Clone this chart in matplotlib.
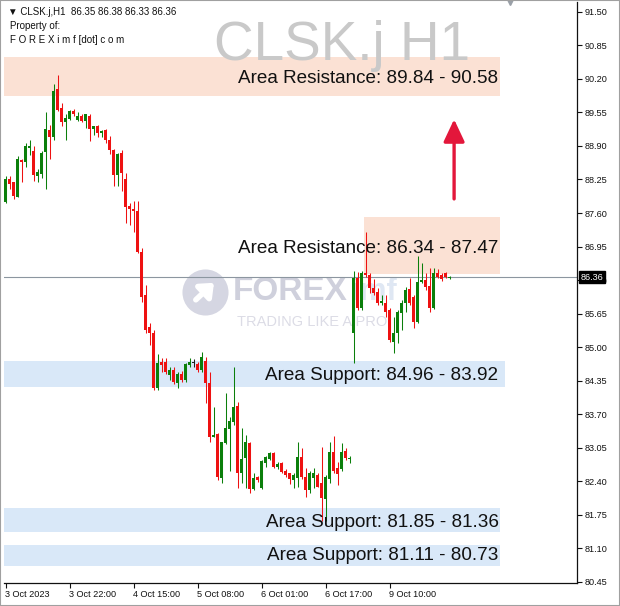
import matplotlib
matplotlib.use('Agg')
import matplotlib.pyplot as plt
import matplotlib.transforms as mtransforms
from matplotlib.patches import Rectangle

symbol = 'CLSK.j'
timeframe = 'H1'
last_ohlc = [86.35, 86.38, 86.33, 86.36]
last_price = 86.36

# H1 свічки
opens = [87.82, 88.26, 88.20, 87.92, 88.63, 88.59, 88.87, 88.81, 88.31, 88.36,
         88.78, 89.20, 89.07, 90.00, 89.64, 89.36, 89.43, 89.58, 89.41, 89.49,
         89.38, 89.49, 89.23, 89.29, 89.16, 89.21, 89.02, 88.83, 88.34, 88.77,
         88.26, 87.73, 87.68, 87.63, 86.85, 86.01, 85.39, 85.27, 84.21, 84.71,
         84.71, 84.46, 84.56, 84.30, 84.48, 84.36, 84.65, 84.69, 84.67, 84.56,
         84.74, 84.30, 83.26, 83.31, 82.46, 83.14, 83.41, 83.55, 83.86, 82.56,
         82.85, 83.14, 82.26, 82.48, 82.28, 82.75, 82.83, 82.94, 82.67, 82.75,
         82.61, 82.56, 82.42, 82.46, 82.87, 82.48, 82.24, 82.46, 82.52, 82.36,
         82.05, 82.44, 82.96, 82.65, 82.63, 82.99, 82.84, 85.27, 86.34, 85.76,
         86.44, 86.40, 86.15, 86.07, 85.86, 85.86, 85.72, 85.10, 85.27, 85.66,
         85.86, 86.13, 85.97, 85.49, 86.26, 86.30, 86.19, 85.76, 86.44, 86.40,
         86.44, 86.35]
highs = [88.32, 88.31, 88.21, 88.70, 88.65, 88.96, 89.02, 88.90, 88.46, 88.81,
         89.56, 89.31, 90.11, 90.28, 89.73, 89.51, 89.60, 89.62, 89.56, 89.51,
         89.52, 89.52, 89.29, 89.30, 89.21, 89.23, 89.09, 88.85, 88.77, 88.83,
         88.38, 87.80, 87.84, 87.84, 86.92, 86.21, 85.47, 85.33, 84.87, 84.79,
         84.79, 84.61, 84.61, 84.52, 84.54, 84.69, 84.79, 84.77, 84.71, 84.91,
         84.81, 84.52, 83.84, 83.33, 83.16, 84.11, 83.64, 84.61, 83.93, 83.43,
         83.29, 83.16, 82.56, 82.50, 82.81, 82.90, 82.96, 82.96, 82.77, 82.77,
         82.63, 82.57, 82.56, 83.16, 83.04, 82.65, 82.61, 82.65, 82.56, 83.06,
         82.52, 83.16, 83.27, 82.77, 83.14, 83.04, 82.90, 86.48, 86.46, 86.48,
         87.24, 86.44, 86.32, 86.15, 86.01, 86.01, 85.76, 85.58, 85.72, 85.91,
         86.17, 86.34, 86.01, 86.76, 86.63, 86.44, 86.54, 86.54, 86.52, 86.44,
         86.46, 86.38]
lows = [87.80, 88.07, 87.87, 87.91, 88.21, 88.50, 88.73, 88.22, 88.21, 88.28,
        88.06, 88.65, 89.02, 89.57, 89.29, 89.02, 89.41, 89.49, 89.39, 89.36,
        89.25, 89.00, 89.12, 89.07, 89.07, 88.96, 88.74, 88.13, 88.13, 88.02,
        87.41, 87.37, 87.24, 86.83, 85.88, 85.27, 85.04, 84.17, 84.17, 84.52,
        84.48, 84.36, 84.28, 84.21, 84.32, 84.32, 84.61, 84.61, 84.52, 84.52,
        83.91, 83.16, 83.25, 82.42, 82.36, 83.12, 82.61, 83.50, 82.28, 82.36,
        82.28, 82.17, 82.23, 82.38, 82.26, 82.67, 82.81, 82.65, 82.63, 82.56,
        82.48, 82.34, 82.28, 82.29, 82.44, 82.09, 82.17, 82.28, 82.30, 81.64,
        81.64, 82.36, 82.56, 82.32, 82.61, 82.81, 82.75, 84.69, 85.72, 85.72,
        86.36, 86.05, 86.01, 85.82, 85.82, 85.58, 85.10, 84.89, 85.08, 85.33,
        85.68, 85.82, 85.37, 85.47, 86.24, 86.11, 85.68, 85.74, 86.34, 86.28,
        86.34, 86.33]
closes = [88.26, 88.17, 87.93, 88.65, 88.59, 88.89, 88.89, 88.33, 88.39, 88.76,
          89.22, 89.07, 89.97, 89.60, 89.36, 89.45, 89.58, 89.51, 89.49, 89.38,
          89.51, 89.23, 89.29, 89.16, 89.19, 89.02, 88.83, 88.33, 88.75, 88.37,
          87.71, 87.68, 87.63, 86.85, 85.98, 85.33, 85.27, 84.21, 84.69, 84.65,
          84.52, 84.56, 84.32, 84.48, 84.36, 84.67, 84.71, 84.69, 84.56, 84.81,
          84.30, 83.25, 83.29, 82.48, 83.16, 83.43, 83.56, 83.84, 82.56, 82.83,
          83.16, 82.26, 82.46, 82.42, 82.79, 82.87, 82.94, 82.67, 82.73, 82.59,
          82.52, 82.44, 82.52, 82.87, 82.48, 82.24, 82.56, 82.56, 82.30, 82.07,
          82.48, 82.96, 82.61, 82.54, 82.96, 82.85, 82.86, 86.34, 85.76, 86.44,
          86.39, 86.15, 86.05, 85.86, 85.90, 85.68, 85.14, 85.27, 85.68, 85.86,
          86.11, 85.86, 85.49, 86.26, 86.30, 86.17, 85.76, 86.44, 86.37, 86.32,
          86.37, 86.36]

time_labels = ['3 Oct 2023', '3 Oct 22:00', '4 Oct 15:00', '5 Oct 08:00',
               '6 Oct 01:00', '6 Oct 17:00', '9 Oct 10:00']
time_ticks = [0, 16, 32, 48, 64, 80, 96]
price_ticks = [80.45, 81.10, 81.75, 82.40, 83.05, 83.70, 84.35, 85.00, 85.65,
               86.30, 86.95, 87.60, 88.25, 88.90, 89.55, 90.20, 90.85, 91.50]

zone_labels = ['Area Resistance: 89.84 - 90.58', 'Area Resistance: 86.34 - 87.47',
               'Area Support: 84.96 - 83.92', 'Area Support: 81.85 - 81.36',
               'Area Support: 81.11 - 80.73']
zone_bottom = [89.87, 86.42, 84.22, 81.41, 80.75]
zone_top = [90.63, 87.53, 84.73, 81.88, 81.16]
zone_kind = ['res', 'res', 'sup', 'sup', 'sup']

# розмітка (позиції в індексах свічок)
zone_x0 = [-0.55, 89.6, -0.55, -0.55, -0.55]
zone_x1 = [123.6, 123.6, 124.8, 123.6, 123.6]
label_y = [90.20, 86.92, 84.46, 81.60, 80.96]

arrow_x = 112.1
arrow_from = 87.82
arrow_to = 89.47

W, H = 620, 606
fig = plt.figure(figsize=(W / 100, H / 100), dpi=100)
ax = fig.add_axes([3.5 / W, 1 - 583 / H, 573.8 / W, 581 / H])
ax.set_xlim(-0.55, -0.55 + 573.8 / 4)
ax.set_ylim(80.43, 91.69)

sans = ['Liberation Sans', 'DejaVu Sans']
green = '#0b7f0b'
red = '#ee1111'

# зони
for x0, x1, b, t, k in zip(zone_x0, zone_x1, zone_bottom, zone_top, zone_kind):
    col = '#fbe1d4' if k == 'res' else '#d9e8f8'
    ax.add_patch(Rectangle((x0, b), x1 - x0, t - b, facecolor=col,
                           edgecolor='none', zorder=0))

# водяний знак
ax.scatter([49.8], [86.07], s=1100, color='#d5d6e2', zorder=1, linewidths=0)
tip = mtransforms.offset_copy(ax.transData, fig, x=8, y=8, units='points')
ax.annotate('', xy=(49.8, 86.07), xycoords=tip, xytext=(-16, -15),
            textcoords='offset points',
            arrowprops=dict(arrowstyle='-|>,head_width=0.5,head_length=0.6',
                            color='white', lw=4, mutation_scale=12), zorder=1)
ax.text(56.7, 86.07, 'FOREX', fontsize=24, fontweight='bold', color='#cfd0dc',
        family=sans, va='center', ha='left', zorder=1)
ax.text(86.5, 86.07, 'imf', fontsize=22, fontweight='bold', color='#dfe7f3',
        family=sans, va='center', ha='left', zorder=1)
ax.text(57.8, 85.49, 'TRADING LIKE A PRO', fontsize=10.5, color='#dcdce6',
        family=sans, va='center', ha='left', zorder=1)

# лінія поточної ціни
ax.axhline(last_price, color='#8c96a0', lw=0.8, zorder=2)

# свічки
for i, (o, h, l, c) in enumerate(zip(opens, highs, lows, closes)):
    if c > o:
        col = green
    elif c < o:
        col = red
    else:
        col = '#202020'
    ax.vlines(i, l, h, color=col, lw=0.75, zorder=3)
    ax.bar(i, max(abs(c - o), 0.02), bottom=min(o, c), width=0.75,
           color=col, linewidth=0, zorder=3)

# підписи зон
for txt, y in zip(zone_labels, label_y):
    ax.text(123.2, y, txt, fontsize=13.6, family=sans, color='#111111',
            ha='right', va='center', zorder=4)

ax.annotate('', xy=(arrow_x, arrow_to), xytext=(arrow_x, arrow_from),
            arrowprops=dict(arrowstyle='-|>,head_width=0.4,head_length=0.85',
                            color='#e3173b', lw=2.4, mutation_scale=16),
            zorder=5)

# назва
ax.text(116.1, 90.56, symbol + ' ' + timeframe, fontsize=39.5,
        color='#c9c9c9', family=sans, ha='right', va='baseline', zorder=1)

# осі
for s in ['top', 'left']:
    ax.spines[s].set_visible(False)
for s in ['right', 'bottom']:
    ax.spines[s].set_linewidth(0.9)
    ax.spines[s].set_color('#111111')
ax.yaxis.tick_right()
ax.set_yticks(price_ticks)
ax.set_yticklabels(['%.2f' % p for p in price_ticks], fontsize=6.6, family=sans)
ax.set_xticks(time_ticks)
ax.set_xticklabels(time_labels, fontsize=6.6, family=sans, ha='left')
ax.tick_params(axis='y', direction='out', length=3.5, width=0.8, pad=1.5,
               colors='#111111')
ax.tick_params(axis='x', direction='out', length=3.5, width=0.8, pad=1.5,
               colors='#111111')
for lab in ax.get_xticklabels():
    lab.set_transform(lab.get_transform() + mtransforms.Affine2D().translate(-1, 0))

# мітка останньої ціни
ax.text(1.006, last_price, '%.2f' % last_price,
        transform=mtransforms.blended_transform_factory(ax.transAxes, ax.transData),
        fontsize=6.6, family=sans, color='white', ha='left', va='center',
        bbox=dict(boxstyle='square,pad=0.15', facecolor='black', edgecolor='black'),
        zorder=6, clip_on=False)

# заголовок у лівому верхньому куті
fig.text(8 / W, 1 - 12 / H, '\u25bc ' + symbol + ',' + timeframe + '  ' +
         ' '.join('%.2f' % v for v in last_ohlc), fontsize=7, family=sans,
         color='#111111', va='center')
fig.text(10 / W, 1 - 26 / H, 'Property of:', fontsize=7, family=sans,
         color='#111111', va='center')
fig.text(10 / W, 1 - 40 / H, 'F O R E X i m f [dot] c o m', fontsize=7,
         family=sans, color='#111111', va='center')

# рамка та маркери
ax.plot([0.883], [1.0], marker='v', ms=5, color='#9aa0a8', transform=ax.transAxes,
        clip_on=False)
fig.patches.append(Rectangle((0, 0), 1, 1, transform=fig.transFigure,
                             fill=False, edgecolor='#a0a0a0', lw=1.5))

fig.savefig('out.png', dpi=100)
